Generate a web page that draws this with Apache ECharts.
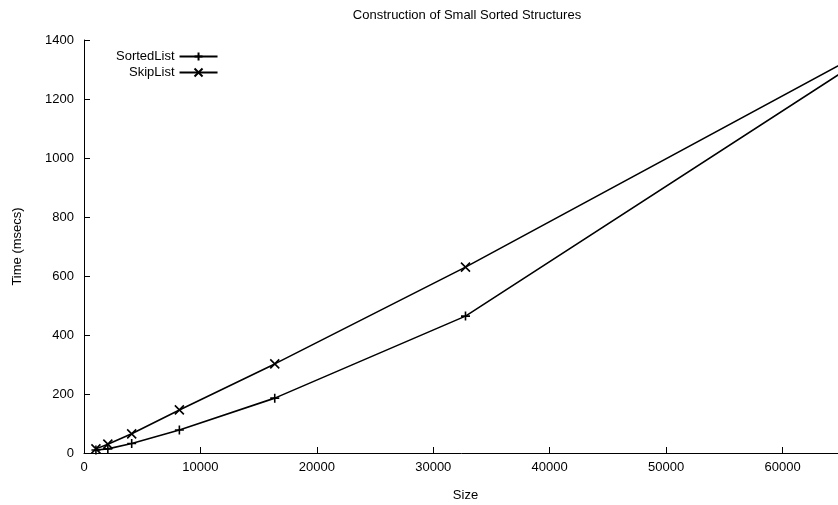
<!DOCTYPE html>
<html>
<head>
<meta charset="utf-8">
<script src="https://cdn.jsdelivr.net/npm/echarts@6/dist/echarts.min.js"></script>
<style>
html,body{margin:0;padding:0;background:#fff;}
#chart{width:838px;height:505px;}
</style>
</head>
<body>
<div id="chart"></div>
<script>
var sizes = [1024, 2048, 4096, 8192, 16384, 32768, 65536];
var sortedList = [10, 14, 32, 78, 186, 464, 1301];
var skipList = [14, 30, 65, 146, 302, 630, 1329];
var seriesNames = ['SortedList', 'SkipList'];
var titleText = 'Construction of Small Sorted Structures';
var xName = 'Size';
var yName = 'Time (msecs)';

function pairs(xs, ys) { return xs.map(function (x, i) { return [x, ys[i]]; }); }

var plusPath = 'path://M0,5L10,5M5,0L5,10';
var crossPath = 'path://M0,0L10,10M10,0L0,10';
var font = 'Liberation Sans, Helvetica, Arial, sans-serif';
var fs = 13;

var chart = echarts.init(document.getElementById('chart'), null, {renderer: 'canvas'});
function mkSeries(name, data, sym) {
  return {
    name: name,
    type: 'line',
    data: pairs(sizes, data),
    symbol: sym,
    symbolSize: 9,
    showSymbol: true,
    animation: false,
    lineStyle: {color: '#000', width: 1.6},
    itemStyle: {color: 'rgba(0,0,0,0)', borderColor: '#000', borderWidth: 1.6},
    emphasis: {disabled: true}
  };
}
chart.setOption({
  animation: false,
  backgroundColor: '#fff',
  title: {
    text: titleText,
    left: 462,
    textAlign: 'center',
    top: 4,
    textStyle: {fontFamily: font, fontSize: fs, fontWeight: 'normal', color: '#000'}
  },
  legend: {
    left: 111,
    top: 45,
    orient: 'vertical',
    align: 'right',
    itemWidth: 38,
    itemHeight: 10,
    itemGap: 3,
    textStyle: {fontFamily: font, fontSize: fs, color: '#000'},
    data: seriesNames
  },
  grid: {left: 84, top: 40, width: 763, height: 413, containLabel: false, outerBoundsMode: 'none'},
  xAxis: {
    type: 'value',
    min: 0,
    max: 65536,
    interval: 10000,
    name: xName,
    nameLocation: 'middle',
    nameGap: 36,
    nameTextStyle: {fontFamily: font, fontSize: fs, color: '#000'},
    axisLine: {lineStyle: {color: '#000', width: 1}},
    axisTick: {inside: true, length: 6, lineStyle: {color: '#000'}},
    axisLabel: {fontFamily: font, fontSize: fs, color: '#000', margin: 8, showMaxLabel: false,
      formatter: function (v) { return String(v); }},
    splitLine: {show: false}
  },
  yAxis: {
    type: 'value',
    min: 0,
    max: 1400,
    interval: 200,
    name: yName,
    nameLocation: 'middle',
    nameGap: 60,
    nameTextStyle: {fontFamily: font, fontSize: fs, color: '#000'},
    axisLine: {show: true, lineStyle: {color: '#000', width: 1}},
    axisTick: {show: true, inside: true, length: 6, lineStyle: {color: '#000'}},
    axisLabel: {fontFamily: font, fontSize: fs, color: '#000', margin: 10,
      formatter: function (v) { return String(v); }},
    splitLine: {show: false}
  },
  series: [
    mkSeries(seriesNames[0], sortedList, plusPath),
    mkSeries(seriesNames[1], skipList, crossPath)
  ]
});
</script>
</body>
</html>
